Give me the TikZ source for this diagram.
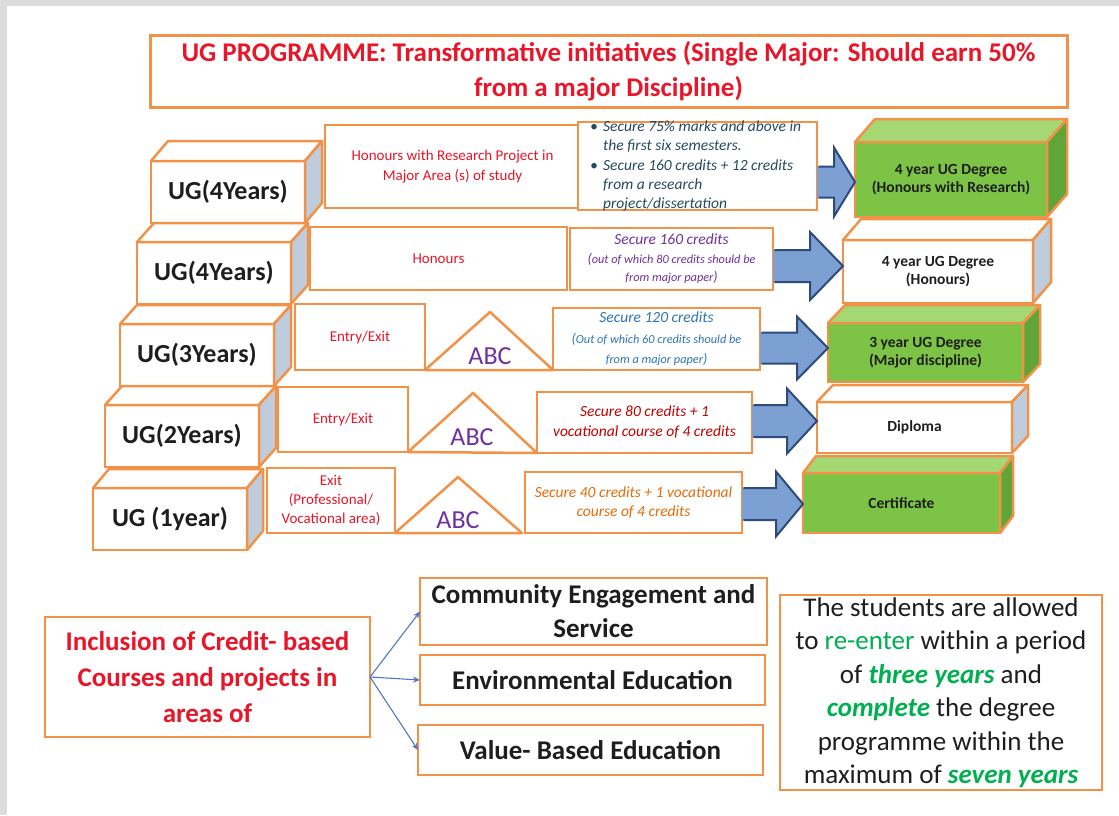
\documentclass[tikz,border=0pt]{standalone}
\usepackage{fontspec}
\setmainfont{Carlito}
\usetikzlibrary{calc,arrows.meta}
\definecolor{ora}{RGB}{242,146,72}
\definecolor{sidegray}{RGB}{190,204,220}
\definecolor{grnF}{RGB}{125,195,70}
\definecolor{grnT}{RGB}{165,215,115}
\definecolor{grnS}{RGB}{95,165,55}
\definecolor{arrF}{RGB}{125,160,210}
\definecolor{arrD}{RGB}{45,75,125}
\definecolor{tred}{RGB}{232,22,40}
\definecolor{tpur}{RGB}{112,48,160}
\definecolor{tblu}{RGB}{46,117,182}
\definecolor{tteal}{RGB}{35,75,95}
\definecolor{tdred}{RGB}{192,0,0}
\definecolor{tora}{RGB}{228,108,10}
\definecolor{tgrn}{RGB}{0,176,80}
\definecolor{bgray}{RGB}{220,220,220}
\definecolor{lblue}{RGB}{80,120,190}
\definecolor{tdark}{RGB}{30,30,30}
\tikzset{
  obox/.style={draw=ora, line width=2.5pt, fill=white, inner sep=0pt, outer sep=0pt, align=center},
  cubeline/.style={draw=ora, line width=2.5pt, line join=round},
  triline/.style={draw=ora, line width=2.5pt, line join=round, fill=white},
  blkfill/.style={fill=arrF},
  blkline/.style={draw=arrD, line width=2pt, line join=miter},
  thinarr/.style={draw=lblue, line width=1.1pt, -{Stealth[length=7pt,width=6pt]}},
  uglab/.style={obox, minimum width=154pt, minimum height=62pt, font=\fontsize{26}{30}\selectfont\bfseries, text=tdark},
  degbox/.style={obox, font=\fontsize{15.5}{18.5}\selectfont\bfseries, text=tdark},
  midtxt/.style={obox, font=\fontsize{15}{19}\selectfont, text=tred},
  abc/.style={font=\fontsize{26}{30}\selectfont, text=tpur, inner sep=0pt},
}
\newcommand{\cubeup}[5]{%
  \draw[cubeline,fill=#4] (#1.north west) -- ($(#1.north west)+(#2,-#3)$) -- ($(#1.north east)+(#2,-#3)$) -- (#1.north east) -- cycle;
  \draw[cubeline,fill=#5] (#1.north east) -- ($(#1.north east)+(#2,-#3)$) -- ($(#1.south east)+(#2,-#3)$) -- (#1.south east) -- cycle;}
\newcommand{\blkarrow}[6]{%
  \coordinate (ay) at (0,#3);
  \coordinate (as) at (#1.east |- ay);
  \coordinate (at) at (#2.west |- ay);
  \fill[blkfill] ($(as)+(0,-#4)$) -- ($(at)+(-#6,-#4)$) -- ($(at)+(-#6,-#5)$) -- (at) -- ($(at)+(-#6,#5)$) -- ($(at)+(-#6,#4)$) -- ($(as)+(0,#4)$) -- cycle;
  \draw[blkline] ($(as)+(1.3,-#4)$) -- ($(at)+(-#6,-#4)$) -- ($(at)+(-#6,-#5)$) -- (at) -- ($(at)+(-#6,#5)$) -- ($(at)+(-#6,#4)$) -- ($(as)+(1.3,#4)$);}
\begin{document}
\begin{tikzpicture}[x=1pt,y=-1pt]
\useasboundingbox (0,0) rectangle (1119,815);
\fill[bgray] (0,0) rectangle (1119,815);
\fill[white] (7,6) rectangle (1119,815);

% title
\node[obox, line width=3pt, minimum width=917pt, minimum height=72pt, font=\fontsize{27}{35}\selectfont\bfseries, text=tred] (title) at (608.5,71)
  {UG PROGRAMME: Transformative initiatives (Single Major: Should earn 50\%\\from a major Discipline)};

% left cubes
\node[uglab] (u1) at (228,192) {UG(4Years)};
\cubeup{u1}{17}{20}{white}{sidegray}
\node[uglab] (u2) at (214,273) {UG(4Years)};
\cubeup{u2}{17}{19}{white}{sidegray}
\node[uglab] (u3) at (197,355) {UG(3Years)};
\cubeup{u3}{17}{19}{white}{sidegray}
\node[uglab] (u4) at (182,436) {UG(2Years)};
\cubeup{u4}{17}{19}{white}{sidegray}
\node[uglab] (u5) at (170,519) {UG (1year)};
\cubeup{u5}{16}{19}{white}{sidegray}

% row 1 middle
\node[midtxt, minimum width=255pt, minimum height=83pt, font=\fontsize{15}{20}\selectfont] (h1) at (452.5,166.5)
  {Honours with Research Project in\\Major Area (s) of study};
\node[obox, minimum width=239pt, minimum height=88pt] (b1) at (697.5,166) {};
\node[anchor=west, align=left, inner sep=0pt, font=\fontsize{15.5}{19.25}\selectfont\itshape, text=tteal] (b1t) at (590,166)
  {\makebox[13pt][l]{\textbullet}Secure 75\% marks and above in\\
   \hspace*{13pt}the first six semesters.\\
   \makebox[13pt][l]{\textbullet}Secure 160 credits + 12 credits\\
   \hspace*{13pt}from a research\\
   \hspace*{13pt}project/dissertation};

% row 2 middle
\node[midtxt, minimum width=257pt, minimum height=63pt] (h2) at (438.5,258.5) {Honours};
\node[obox, minimum width=203pt, minimum height=62pt, font=\fontsize{15.5}{18.5}\selectfont\itshape, text=tpur] (c2) at (671.5,259)
  {Secure 160 credits\\{\fontsize{14}{14}\selectfont(}{\fontsize{12.3}{14}\selectfont out of which 80 credits should be}\\{\fontsize{12.3}{14}\selectfont from major paper}{\fontsize{14}{14}\selectfont)}};

% row 3 middle
\node[midtxt, minimum width=130pt, minimum height=66pt] (e3) at (360,337) {Entry/Exit};
\node[obox, minimum width=207pt, minimum height=62pt, font=\fontsize{15.5}{20.5}\selectfont\itshape, text=tblu] (c3) at (656.5,339)
  {Secure 120 credits\\{\fontsize{14}{14}\selectfont(}{\fontsize{12.3}{14}\selectfont Out of which 60 credits should be}\\{\fontsize{12.3}{14}\selectfont from a major paper}{\fontsize{14}{14}\selectfont)}};
\draw[triline] (e3.south east) -- (490,312) -- (c3.south west) -- cycle;
\node[abc] (abc3) at (490,356) {ABC};

% row 4 middle
\node[midtxt, minimum width=130pt, minimum height=65pt] (e4) at (343,419.5) {Entry/Exit};
\node[obox, minimum width=215pt, minimum height=61pt, font=\fontsize{15.5}{20}\selectfont\itshape, text=tdred] (c4) at (644.5,422.5)
  {Secure 80 credits + 1\\vocational course of 4 credits};
\draw[triline] (e4.south east) -- (473,393) -- (c4.south west) -- cycle;
\node[abc] (abc4) at (472,437) {ABC};

% row 5 middle
\node[midtxt, minimum width=128pt, minimum height=65pt] (e5) at (331,500.5) {Exit\\(Professional/\\Vocational area)};
\node[obox, minimum width=217pt, minimum height=61pt, font=\fontsize{15.5}{19}\selectfont\itshape, text=tora] (c5) at (633.5,502.5)
  {Secure 40 credits + 1 vocational\\course of 4 credits};
\draw[triline] (e5.south east) -- (458,477) -- ($(c5.south west)+(-3,0)$) -- cycle;
\node[abc] (abc5) at (458,520) {ABC};

% right cubes
\node[degbox, fill=grnF, minimum width=192pt, minimum height=75pt] (g1) at (951,179.5) {4 year UG Degree\\(Honours with Research)};
\cubeup{g1}{20}{23}{grnT}{grnS}
\node[degbox, minimum width=190pt, minimum height=63pt] (w2) at (938,271.5) {4 year UG Degree\\(Honours)};
\cubeup{w2}{18}{21}{white}{sidegray}
\node[degbox, fill=grnF, minimum width=195pt, minimum height=59pt] (g3) at (925.5,352.5) {3 year UG Degree\\(Major discipline)};
\cubeup{g3}{17}{18}{grnT}{grnS}
\node[degbox, minimum width=195pt, minimum height=51pt] (w4) at (914.5,427.5) {Diploma};
\cubeup{w4}{16}{17}{white}{sidegray}
\node[degbox, fill=grnF, minimum width=197pt, minimum height=60pt] (g5) at (901.5,503) {Certificate};
\cubeup{g5}{13}{17}{grnT}{grnS}

% block arrows
\blkarrow{b1}{g1}{182}{15.5}{34.5}{21}
\blkarrow{c2}{w2}{266}{16}{34}{33}
\blkarrow{c3}{g3}{348}{15.5}{31.5}{31}
\blkarrow{c4}{w4}{421}{16}{32.5}{30}
\blkarrow{c5}{g5}{504}{16}{32.5}{27}

% bottom
\node[obox, minimum width=325pt, minimum height=120pt, font=\fontsize{27}{36}\selectfont\bfseries, text=tred] (inc) at (207.5,677)
  {Inclusion of Credit- based\\Courses and projects in\\areas of};
\node[obox, minimum width=347pt, minimum height=67pt, font=\fontsize{27}{34}\selectfont\bfseries, text=tdark] (com) at (593.5,611.5)
  {Community Engagement and\\Service};
\node[obox, minimum width=345pt, minimum height=50pt, font=\fontsize{27}{34}\selectfont\bfseries, text=tdark] (env) at (592.5,680)
  {Environmental Education};
\node[obox, minimum width=345pt, minimum height=50pt, font=\fontsize{27}{34}\selectfont\bfseries, text=tdark] (val) at (590.5,750)
  {Value- Based Education};
\draw[thinarr] (inc.east) -- (com.west);
\draw[thinarr] (inc.east) -- (env.west);
\draw[thinarr] (inc.east) -- (val.west);

\node[obox, minimum width=322pt, minimum height=195pt, font=\fontsize{27}{33.5}\selectfont, text=tdark] (stu) at (941,692.5)
  {The students are allowed\\
   to \textcolor{tgrn}{re-enter} within a period\\
   of \textcolor{tgrn}{\bfseries\itshape three years} and\\
   \textcolor{tgrn}{\bfseries\itshape complete} the degree\\
   programme within the\\
   maximum of \textcolor{tgrn}{\bfseries\itshape seven years}};
\end{tikzpicture}
\end{document}
